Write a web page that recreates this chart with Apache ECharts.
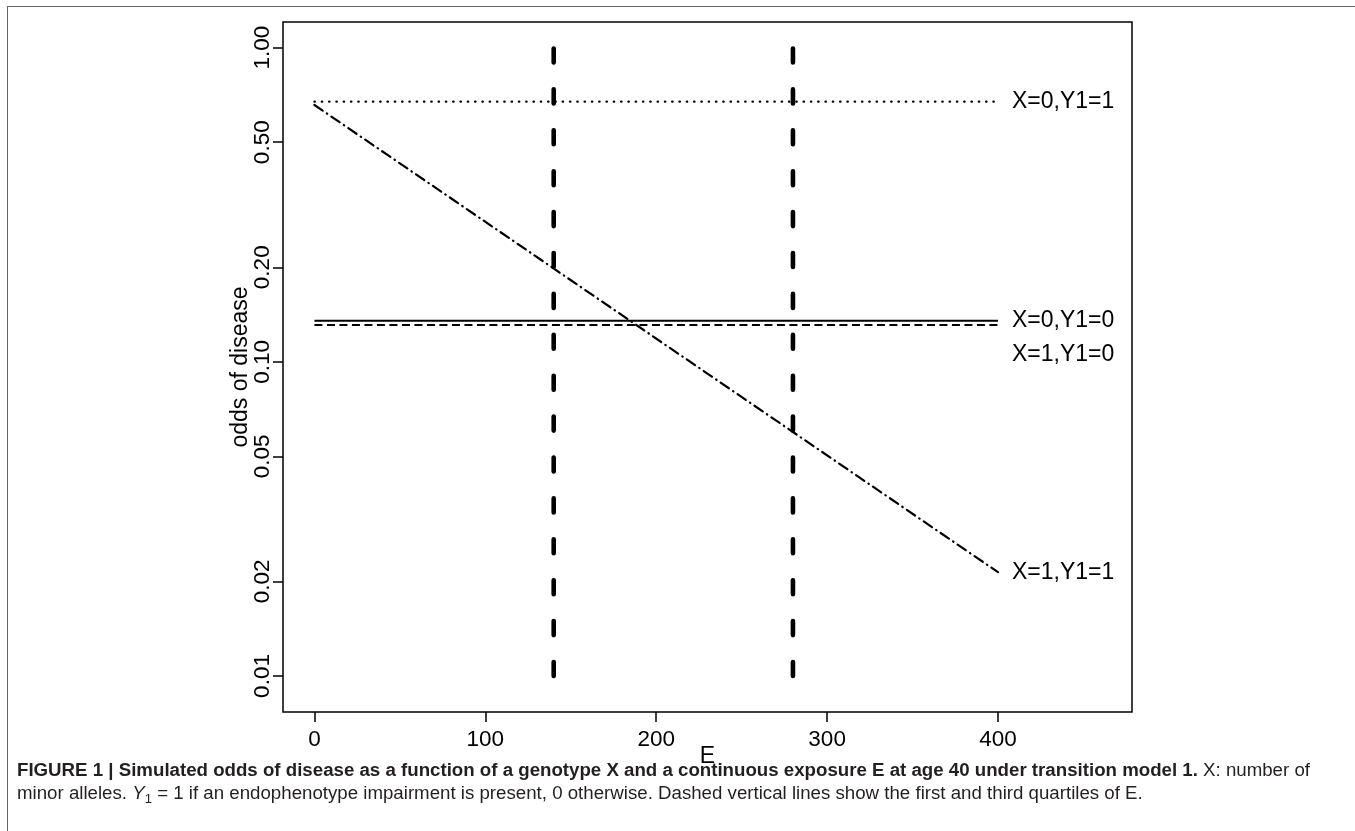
<!DOCTYPE html>
<html><head><meta charset="utf-8">
<script src="https://cdn.jsdelivr.net/npm/echarts@6/dist/echarts.min.js"></script>
<style>
html,body{margin:0;padding:0;background:#fff;width:1355px;height:831px;overflow:hidden;}
#chart{position:absolute;left:0;top:0;width:1355px;height:831px;}
.frameL{position:absolute;left:7px;top:6px;width:0;height:830px;border-left:1.5px solid #666;}
.frameT{position:absolute;left:7px;top:6px;width:1348px;height:0;border-top:1.5px solid #666;}
.cap{position:absolute;left:17px;white-space:nowrap;font-family:'Liberation Sans Narrow','Liberation Sans',Arial,sans-serif;color:#231f20;font-size:17.5px;line-height:21px;transform-origin:0 50%;}
.cap sub{font-size:0.7em;vertical-align:-0.3em;line-height:0;}
</style></head><body>
<div id="chart"></div>
<div class="frameL"></div><div class="frameT"></div>
<div id="cap1" class="cap"><b>FIGURE 1 | Simulated odds of disease as a function of a genotype X and a continuous exposure E at age 40 under transition model 1.</b> X: number of</div>
<div id="cap2" class="cap">minor alleles. <i>Y</i><sub>1</sub> = 1 if an endophenotype impairment is present, 0 otherwise. Dashed vertical lines show the first and third quartiles of E.</div>
<script>
// ---- data ----
const xTickValues = [0, 100, 200, 300, 400];
const yTickValues = [0.01, 0.02, 0.05, 0.10, 0.20, 0.50, 1.00];
const exposure = [0, 400];
const oddsX0Y1 = [0.673, 0.673];
const oddsX0Y0 = [0.1352, 0.1352];
const oddsX1Y0 = [0.131, 0.131];
const oddsX1Y1 = [0.657, 0.0214];
const quartileE = [140, 280];
const quartileSpan = [0.01, 1.21];
const seriesNames = ['X=0,Y1=1', 'X=0,Y1=0', 'X=1,Y1=0', 'X=1,Y1=1'];

const FONT = "'Liberation Sans', Arial, sans-serif";
const pairs = (xs, ys) => xs.map((x, i) => [x, ys[i]]);

function endLbl(offset) {
  return {show: true, formatter: p => p.seriesName, distance: 14, fontSize: 23,
          color: '#000', fontFamily: FONT, offset: offset || [0, 0]};
}

const series = [
  {type: 'line', name: seriesNames[0], data: pairs(exposure, oddsX0Y1), symbol: 'none',
   lineStyle: {color: '#000', width: 2.2, type: [0.5, 6.8], cap: 'round'}, endLabel: endLbl()},
  {type: 'line', name: seriesNames[1], data: pairs(exposure, oddsX0Y0), symbol: 'none',
   lineStyle: {color: '#000', width: 2, type: 'solid'}, endLabel: endLbl()},
  {type: 'line', name: seriesNames[2], data: pairs(exposure, oddsX1Y0), symbol: 'none',
   lineStyle: {color: '#000', width: 2, type: [8, 4.5]}, endLabel: endLbl([0, 30])},
  {type: 'line', name: seriesNames[3], data: pairs(exposure, oddsX1Y1), symbol: 'none',
   lineStyle: {color: '#000', width: 2.2, type: [10, 5, 0.5, 5], cap: 'round'}, endLabel: endLbl()}
];
quartileE.forEach(q => {
  series.push({type: 'line', data: quartileSpan.map(v => [q, v]), symbol: 'none',
    lineStyle: {color: '#000', width: 4.6, type: [14, 26.9], cap: 'round'}, silent: true});
});

const chart = echarts.init(document.getElementById('chart'), null, {renderer: 'canvas'});
chart.setOption({
  animation: false,
  backgroundColor: 'transparent',
  grid: {left: 283, top: 22, width: 849, height: 690, show: true, borderColor: '#000', borderWidth: 1.5,
         containLabel: false, outerBoundsMode: 'none'},
  xAxis: {
    type: 'value', min: -18.4, max: 478.4,
    axisLine: {show: false, onZero: false},
    splitLine: {show: false},
    axisTick: {show: true, customValues: xTickValues, length: 10, lineStyle: {color: '#000', width: 1.5}},
    axisLabel: {customValues: xTickValues, fontSize: 22.5, color: '#000', margin: 16, fontFamily: FONT},
    name: 'E', nameLocation: 'middle', nameGap: 33, nameMoveOverlap: false,
    nameTextStyle: {fontSize: 23, color: '#000', fontFamily: FONT}
  },
  yAxis: {
    type: 'log', logBase: 10, min: 0.00768, max: 1.207,
    axisLine: {show: false, onZero: false},
    splitLine: {show: false},
    axisTick: {show: true, customValues: yTickValues, length: 10, lineStyle: {color: '#000', width: 1.5}},
    axisLabel: {customValues: yTickValues, rotate: 90, fontSize: 22.5, color: '#000', margin: 9,
                fontFamily: FONT, formatter: v => Number(v).toFixed(2)},
    name: 'odds of disease', nameLocation: 'middle', nameGap: 31, nameMoveOverlap: false,
    nameTextStyle: {fontSize: 23, color: '#000', fontFamily: FONT}
  },
  series: series
});

// caption fit: stretch horizontally to the reference line width
function fitCaption() {
  const c1 = document.getElementById('cap1'), c2 = document.getElementById('cap2');
  const w = c1.getBoundingClientRect().width;
  const s = 1293 / w;
  [c1, c2].forEach(c => { c.style.transform = 'scaleX(' + s + ')'; });
  c1.style.top = (770 - 10.5) + 'px';
  c2.style.top = (793 - 10.5) + 'px';
}
fitCaption();
</script>
</body></html>
